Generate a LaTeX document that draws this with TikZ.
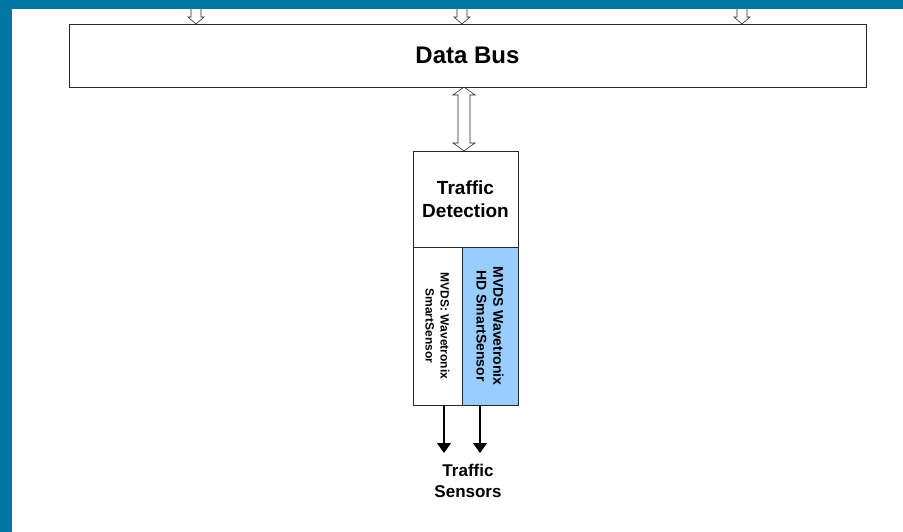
\documentclass[tikz,border=0pt]{standalone}
\usepackage{fontspec}
\setmainfont{Liberation Sans}
\usetikzlibrary{calc,arrows.meta}

\definecolor{frameblue}{RGB}{0,119,162}
\definecolor{hdblue}{RGB}{153,204,255}

\begin{document}
\begin{tikzpicture}[x=1pt,y=-1pt,
	box/.style={draw=black!85,line width=0.8pt,inner sep=0pt,outer sep=0pt,align=center},
	hollow/.style={draw=black!85,line width=0.6pt,fill=white,line join=miter},
	sens/.style={-{Triangle[length=10pt,width=14pt]},line width=1.4pt}]
	\useasboundingbox (0,0) rectangle (903,532);
	\node[box,minimum width=797pt,minimum height=63pt,font=\bfseries\fontsize{24}{28}\selectfont] (bus) at (467.5,55.5) {Data Bus};
	\node[box,minimum width=105pt,minimum height=96pt,font=\bfseries\fontsize{19}{23}\selectfont] (det) at (465.5,199) {Traffic\\Detection};
	\node[box,rotate=-90,minimum width=158pt,minimum height=49pt,font=\bfseries\fontsize{12}{15}\selectfont] (wav) at (437.5,326) {MVDS: Wavetronix\\SmartSensor};
	\node[box,fill=hdblue,rotate=-90,minimum width=158pt,minimum height=56pt,font=\bfseries\fontsize{14}{17}\selectfont] (hd) at (490,326) {MVDS Wavetronix\\HD SmartSensor};
	\node[align=center,font=\bfseries\fontsize{17}{21}\selectfont] (tsens) at (468,481) {Traffic\\Sensors};

	\coordinate (up) at (464,0 |- bus.south);
	\coordinate (dn) at (464,0 |- det.north);
	\draw[hollow] (up) -- ++(-11,8) -- ++(5,0) -- ($(dn)+(-6,-8)$) -- ++(-5,0) -- (dn)
		-- ++(11,-8) -- ++(-5,0) -- ($(up)+(6,8)$) -- ++(5,0) -- cycle;
	\foreach \x in {196,462,742}
		\draw[hollow] (\x,0 |- bus.north) -- ++(-8,-7) -- ++(3,0) -- ++(0,-10) -- ++(10,0) -- ++(0,10) -- ++(3,0) -- cycle;

	\coordinate (s1) at (444,453);
	\coordinate (s2) at (480,453);
	\draw[sens] (s1 |- wav.east) -- (s1);
	\draw[sens] (s2 |- hd.east) -- (s2);

	\fill[frameblue] (0,0) rectangle (903,9);
	\fill[frameblue] (0,0) rectangle (12,532);
\end{tikzpicture}
\end{document}
